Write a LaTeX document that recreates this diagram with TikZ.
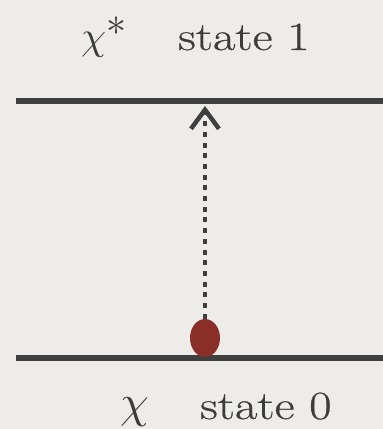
\documentclass[tikz,border=0pt]{standalone}
\usepackage{fontspec}
\setmainfont{Latin Modern Roman}[FakeStretch=1.22, FakeBold=0.6]
\usepackage{tikz}
\usetikzlibrary{
  shapes.geometric,
  arrows.meta,
  positioning,
  calc,
  backgrounds
}
\usepackage{amsmath,amssymb}
% scalable math fonts for the big labels
\DeclareFontShape{OML}{cmm}{m}{it}{<-> cmmi10}{\skewchar\font'177}
\DeclareFontShape{OMS}{cmsy}{m}{n}{<-> cmsy10}{\skewchar\font'60}
\definecolor{paper}{HTML}{EEECE8}
\definecolor{leveldark}{HTML}{3F3F3F}
\definecolor{labeltext}{HTML}{3C3C3C}
\definecolor{particlered}{HTML}{8A2E29}

\begin{document}
\begin{tikzpicture}[
    x=1pt, y=1pt,
    every node/.style={font=\fontsize{40}{48}\selectfont, text=labeltext, inner sep=0pt},
    level/.style={draw=leveldark, line width=5.5pt},
    particle/.style={ellipse, fill=particlered, minimum width=30pt, minimum height=38pt, inner sep=0pt},
    excite/.style={draw=leveldark, line width=4.5pt, dash pattern=on 5pt off 5.7pt,
                   -{Straight Barb[length=19pt, width=28pt, line width=4.5pt]}},
]

% --- Canvas ---
\fill[paper] (0,0) rectangle (383,429);
\useasboundingbox (0,0) rectangle (383,429);

% --- Energy levels ---
\coordinate (up west) at (16,328);
\coordinate (up east) at (383,328);
\coordinate (low west) at (16,71);
\coordinate (low east) at (383,71);
\draw[level] (up west) -- (up east);
\draw[level] (low west) -- (low east);

% --- Particle in ground state ---
\node[particle] (dot) at (205,91) {};
\coordinate (tip) at (205,323);

% --- Excitation ---
\draw[excite] (dot.north) -- (tip);

% --- Labels ---
\node[anchor=base west] (chistar) at (81,379) {$\chi^{\textstyle *}$};
\node[anchor=base west] (upper) at (178,379) {state 1};
\node[anchor=base west, font=\fontsize{46}{52}\selectfont] (chi) at (120,11) {$\chi$};
\node[anchor=base west] (lower) at (200,10) {state 0};

\end{tikzpicture}
\end{document}
